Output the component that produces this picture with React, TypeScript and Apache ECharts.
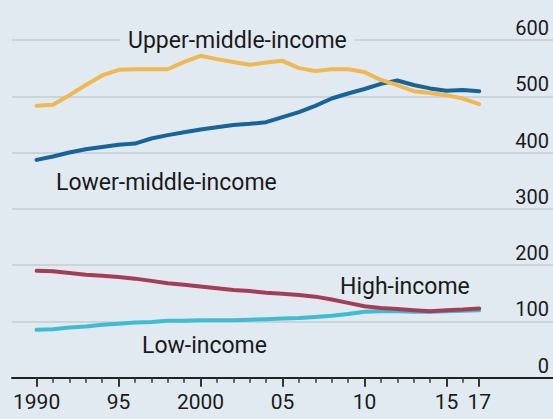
import React, { useEffect, useRef } from "react";
import * as echarts from "echarts";

const years = [
  1990, 1991, 1992, 1993, 1994, 1995, 1996, 1997, 1998, 1999, 2000, 2001, 2002, 2003,
  2004, 2005, 2006, 2007, 2008, 2009, 2010, 2011, 2012, 2013, 2014, 2015, 2016, 2017,
];
const majorTicks = [1990, 1995, 2000, 2005, 2010, 2015, 2017];
const yTicks = [0, 100, 200, 300, 400, 500, 600];

const upperMiddle = [
  483, 485, 502, 520, 537, 547, 548, 548, 548, 561, 572, 566, 561, 556,
  560, 563, 550, 545, 548, 548, 543, 529, 520, 509, 506, 502, 496, 486,
];
const lowerMiddle = [
  387, 393, 400, 406, 410, 414, 416, 425, 431, 436, 441, 445, 449, 451,
  454, 463, 472, 483, 496, 505, 513, 522, 528, 520, 514, 510, 511, 509,
];
const highIncome = [
  190, 189, 186, 183, 181, 179, 176, 172, 168, 165, 162, 159, 156, 154,
  151, 149, 147, 144, 139, 133, 127, 124, 122, 120, 118, 120, 121, 123,
];
const lowIncome = [
  85, 86, 89, 91, 94, 96, 98, 99, 101, 101, 102, 102, 102, 103,
  104, 105, 106, 108, 110, 113, 117, 118, 118, 117, 117, 118, 119, 120,
];

const BG = "#e1eaf1";
const GRID = "#c3ccd3";
const TEXT = "#1a1a1a";
const FONT = "Roboto, 'Noto Sans', sans-serif";

const pair = (vals: number[]) => years.map((y, i) => [y, vals[i]]);

export default function App() {
  const ref = useRef<HTMLDivElement>(null);
  useEffect(() => {
    document.body.style.margin = "0";
    if (!ref.current) return;
    const chart = echarts.init(ref.current, undefined, { renderer: "svg" });
    const fmt = (v: number) => (v === 1990 || v === 2000 ? String(v) : String(v).slice(2));
    const line = (data: number[], color: string, z: number) => ({
      type: "line",
      data: pair(data),
      showSymbol: false,
      symbol: "none",
      lineStyle: { color, width: 4, cap: "round", join: "round" },
      z,
      silent: true,
    });
    const label = (text: string, x: number, y: number, bg?: boolean) => ({
      type: "text",
      x,
      y,
      z: 100,
      style: {
        text,
        fill: TEXT,
        font: `23px ${FONT}`,
        fontSize: 23,
        fontFamily: FONT,
        align: "left",
        verticalAlign: "middle",
        textAlign: "left",
        textVerticalAlign: "middle",
        ...(bg ? { backgroundColor: BG, padding: [2, 8, 2, 8] } : {}),
      },
    });
    chart.setOption({
      animation: false,
      backgroundColor: BG,
      textStyle: { fontFamily: FONT },
      grid: {
        left: 12,
        right: 0,
        top: 40,
        bottom: 41.3,
        containLabel: false,
        outerBoundsMode: "none",
      },
      xAxis: [
        {
          type: "value",
          min: 1988.5,
          max: 2021.5,
          position: "bottom",
          axisLine: { show: true, onZero: false, lineStyle: { color: "#222", width: 2 } },
          axisTick: {
            show: true,
            customValues: majorTicks,
            length: 9,
            lineStyle: { color: "#333", width: 2 },
          },
          axisLabel: {
            show: true,
            customValues: majorTicks,
            formatter: fmt,
            fontSize: 21,
            fontFamily: FONT,
            color: TEXT,
            margin: 14,
          },
          splitLine: { show: false },
        },
        {
          type: "value",
          min: 1988.5,
          max: 2021.5,
          position: "bottom",
          axisLine: { show: false },
          axisTick: {
            show: true,
            customValues: years,
            length: 5,
            lineStyle: { color: "#333", width: 1.5 },
          },
          axisLabel: { show: false },
          splitLine: { show: false },
        },
      ],
      yAxis: {
        type: "value",
        min: 0,
        max: 600,
        interval: 100,
        position: "right",
        axisLine: { show: false },
        axisTick: { show: false },
        axisLabel: {
          inside: true,
          margin: 4,
          fontSize: 20,
          fontFamily: FONT,
          color: TEXT,
          verticalAlign: "bottom",
          lineHeight: 20,
          padding: [0, 0, 2, 0],
          customValues: yTicks,
        },
        splitLine: { show: true, lineStyle: { color: GRID, width: 1.5 } },
      },
      series: [
        line(lowIncome, "#3ebcd2", 2),
        line(highIncome, "#a53e55", 3),
        line(lowerMiddle, "#17649a", 4),
        line(upperMiddle, "#efb850", 5),
      ],
      graphic: [
        label("Upper-middle-income", 120, 40, true),
        label("Lower-middle-income", 56, 182),
        label("High-income", 340, 286),
        label("Low-income", 142, 345),
      ],
    });
    return () => chart.dispose();
  }, []);
  return <div ref={ref} style={{ width: 553, height: 419 }} />;
}
